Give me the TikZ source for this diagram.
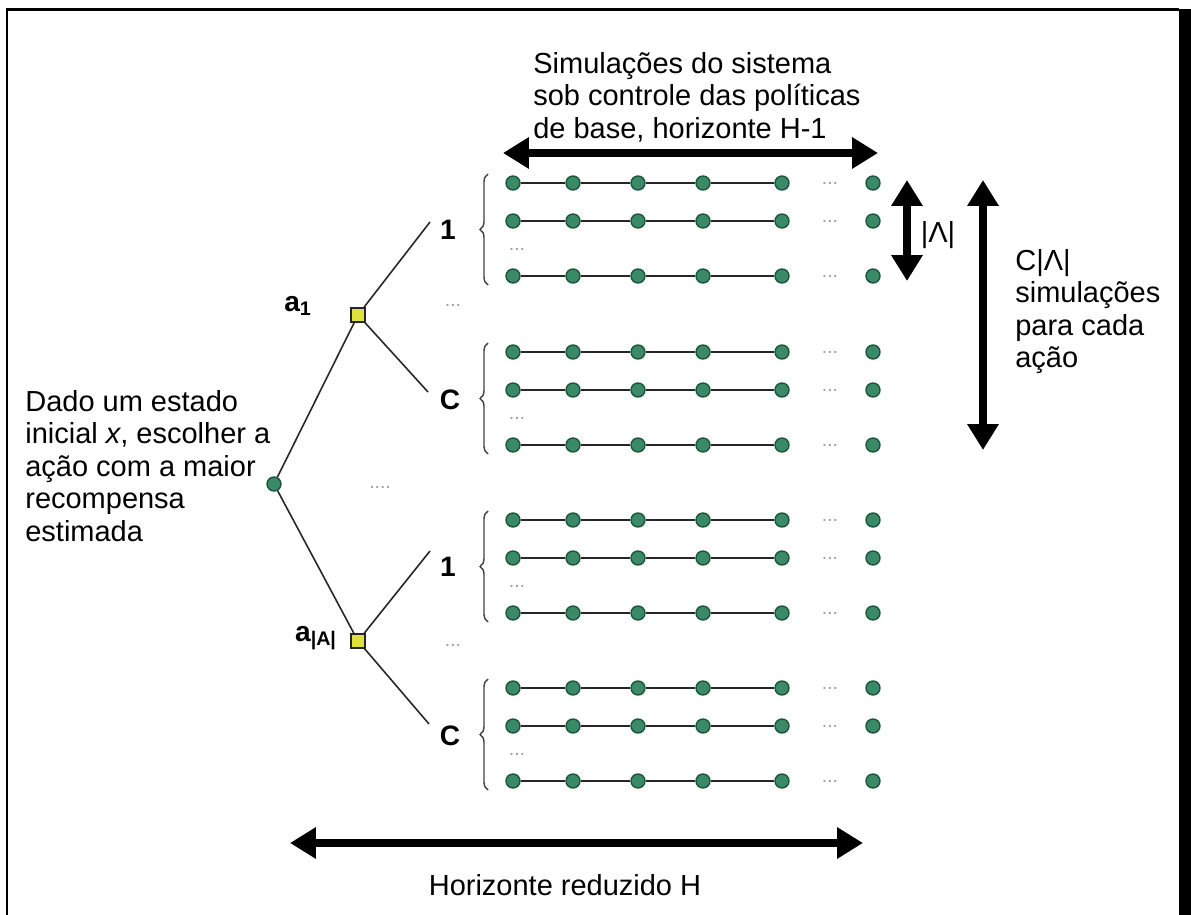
\documentclass[tikz,border=0pt]{standalone}
\usepackage{fontspec}
\setmainfont{Liberation Sans}
\usetikzlibrary{arrows.meta,decorations.pathreplacing}
\definecolor{dotfill}{RGB}{58,138,104}
\definecolor{dotedge}{RGB}{30,85,62}
\definecolor{choice}{RGB}{222,226,60}
\tikzset{
  state/.style={circle, fill=dotfill, draw=dotedge, line width=0.8pt, inner sep=0pt, minimum size=0.28cm},
  action/.style={rectangle, fill=choice, draw=black!85, line width=0.8pt, inner sep=0pt, minimum size=0.28cm},
  link/.style={draw=black!85, line width=0.9pt},
  gap/.style={text=gray!75, font=\fontsize{11}{11}\selectfont, inner sep=0pt},
  span/.style={line width=4.5pt, {Triangle[length=0.52cm,width=0.6cm]}-{Triangle[length=0.52cm,width=0.6cm]}},
  body/.style={font=\fontsize{16.5}{18.5}\selectfont, inner sep=0pt, align=left},
  lab/.style={font=\fontsize{16}{18}\selectfont\bfseries, inner sep=0pt},
  groupbrace/.style={decorate, decoration={brace, amplitude=0.16cm}, draw=black!75, line width=0.8pt},
}
\begin{document}
\begin{tikzpicture}[x=0.02cm, y=-0.02cm]
\useasboundingbox (0,0) rectangle (1191,915);
% frame
\draw[line width=0.06cm] (7,915) -- (7,10) -- (1179,10);
\fill (1179,9) rectangle (1191,915);

% simulation groups
\foreach \g/\y in {1/183, 2/352, 3/520, 4/688} {
  \foreach \r/\dy in {1/0, 2/38, 3/93} {
    \foreach \c/\x in {1/513, 2/573, 3/638, 4/703, 5/782, 6/873} {
      \node[state] (g\g r\r c\c) at (\x, \y+\dy) {};
    }
    \foreach \c [evaluate=\c as \n using int(\c+1)] in {1,...,4}
      \draw[link] (g\g r\r c\c) -- (g\g r\r c\n);
    \node[gap] (g\g r\r m) at (830, \y+\dy) {...};
  }
  \node[gap] (g\g m) at (517, \y+66) {...};
  \draw[groupbrace] (488, \y+102) -- (488, \y-9);
}

% group labels
\node[lab] (n1) at (448, 230) {1};
\node[lab] (nc1) at (450, 400) {C};
\node[lab] (n2) at (448, 567) {1};
\node[lab] (nc2) at (450, 736) {C};

% decision tree
\node[state] (root) at (274, 484) {};
\node[action] (a1) at (358, 315) {};
\node[action] (aA) at (358, 641) {};
\node[lab] (la1) at (298, 306) {a\textsubscript{1}};
\node[lab] (laA) at (316, 638) {a\textsubscript{|A|}};
\coordinate (e1) at (430, 222);
\coordinate (e2) at (428, 392);
\coordinate (e3) at (430, 551);
\coordinate (e4) at (429, 724);
\draw[link] (root) -- (a1);
\draw[link] (root) -- (aA);
\draw[link] (a1) -- (e1);
\draw[link] (a1) -- (e2);
\draw[link] (aA) -- (e3);
\draw[link] (aA) -- (e4);
\node[gap] (d1) at (453, 305) {...};
\node[gap] (d2) at (380, 487) {....};
\node[gap] (d3) at (453, 645) {...};

% extent arrows
\coordinate (h1) at (503,153);
\coordinate (h2) at (878,153);
\draw[span] (h1) -- (h2);
\coordinate (b1) at (290,843);
\coordinate (b2) at (863,843);
\draw[span] (b1) -- (b2);
\coordinate (v1) at (907,180);
\coordinate (v2) at (907,281);
\draw[span] (v1) -- (v2);
\coordinate (w1) at (983,180);
\coordinate (w2) at (983,450);
\draw[span] (w1) -- (w2);

% texts
\node[body, anchor=north west] (ttop) at (533, 52)
  {Simulações do sistema\\sob controle das políticas\\de base, horizonte H-1};
\node[body, anchor=north west] (tleft) at (25, 390)
  {Dado um estado\\inicial \textit{x}, escolher a\\ação com a maior\\recompensa\\estimada};
\node[body] (tA) at (938, 235) {|Λ|};
\node[body, anchor=north west] (tright) at (1015, 249)
  {C|Λ|\\simulações\\para cada\\ação};
\node[body] (tbot) at (565, 885) {Horizonte reduzido H};
\end{tikzpicture}
\end{document}
